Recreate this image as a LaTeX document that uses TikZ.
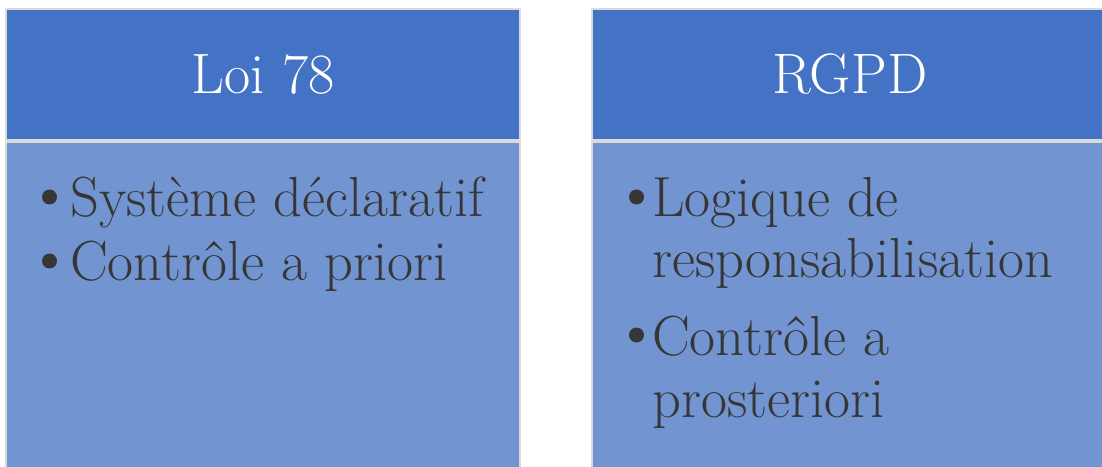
\documentclass[tikz,border=0pt]{standalone}
\usepackage{fontspec}
\definecolor{headblue}{HTML}{4472C4}
\definecolor{bodyblue}{HTML}{7295D2}
\definecolor{edgegray}{HTML}{DADADA}
\definecolor{inkgray}{HTML}{363636}
\begin{document}
\begin{tikzpicture}[x=1pt, y=1pt, line join=round,
    headbox/.style={draw=edgegray, line width=2pt, fill=headblue, text=white, minimum height=131pt, inner sep=0pt, font=\fontsize{57}{64}\selectfont},
    bodybox/.style={draw=edgegray, line width=2pt, fill=bodyblue, minimum height=330pt, inner sep=0pt, anchor=north},
    txt/.style={anchor=base west, inner sep=0pt, text=inkgray, font=\fontsize{56.5}{64}\selectfont},
    dot/.style={circle, fill=inkgray, minimum size=15pt, inner sep=0pt}]
    \useasboundingbox (0,0) rectangle (1102,466);
    \clip (0,0) rectangle (1102,466);
    % left column
    \node[headbox, minimum width=514pt] (loi) at (263,391.5) {Loi 78};
    \node[bodybox, minimum width=514pt] (loibody) at (loi.south) {};
    \foreach \y/\t [count=\i] in {249/Système déclaratif, 185/Contrôle a priori}{
        \node[dot] (ldot\i) at (49.5,\y+20) {};
        \node[txt] (litem\i) at (70,\y) {\t};
    }
    % right column
    \node[headbox, minimum width=516pt] (rgpd) at (850,391.5) {RGPD};
    \node[bodybox, minimum width=516pt] (rgpdbody) at (rgpd.south) {};
    \node[dot] (rdot1) at (636.5,269) {};
    \node[txt] (ritem1) at (652,249) {Logique de};
    \node[txt] (ritem1b) at (652,188) {responsabilisation};
    \node[dot] (rdot2) at (636.5,131) {};
    \node[txt] (ritem2) at (652,111) {Contrôle a};
    \node[txt] (ritem2b) at (652,49) {prosteriori};
\end{tikzpicture}
\end{document}
